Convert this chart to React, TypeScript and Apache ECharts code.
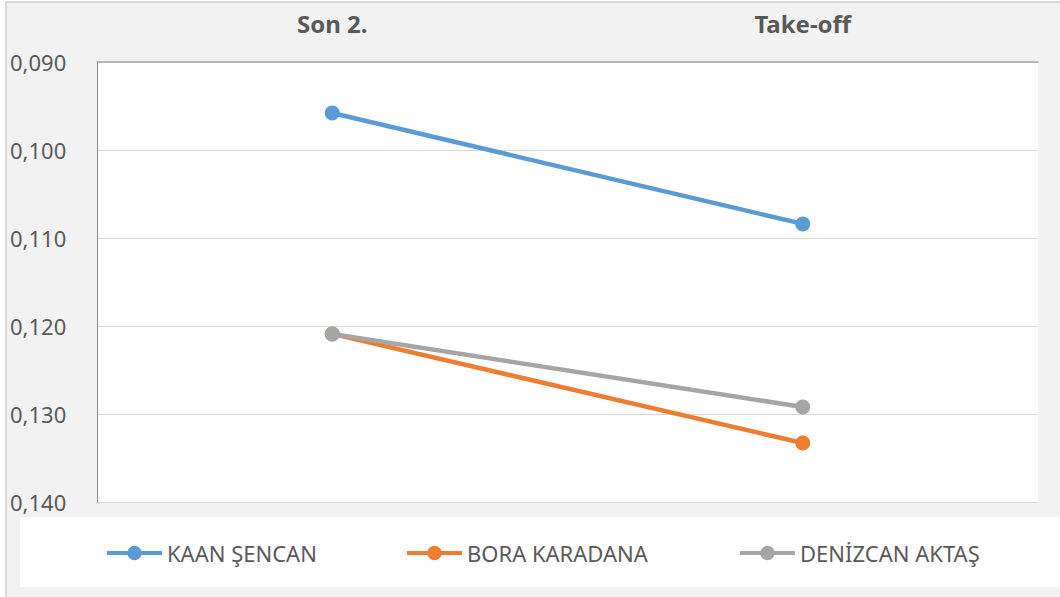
import React, { useEffect, useRef } from "react";
import * as echarts from "echarts";

const categories = ["Son 2.", "Take-off"];
const seriesNames = ["KAAN ŞENCAN", "BORA KARADANA", "DENİZCAN AKTAŞ"];
const kaan = [0.0958, 0.1084];
const bora = [0.1209, 0.1333];
const denizcan = [0.1209, 0.1292];
const colors = ["#5b9bd5", "#ed7d31", "#a5a5a5"];
const legendLefts = [105, 405, 738];

export default function App() {
  const ref = useRef<HTMLDivElement>(null);
  useEffect(() => {
    if (!ref.current) return;
    const chart = echarts.init(ref.current, undefined, { renderer: "svg" });
    const values = [kaan, bora, denizcan];
    chart.setOption({
      animation: false,
      backgroundColor: "#ffffff",
      textStyle: { fontFamily: "Noto Sans" },
      graphic: [
        {
          type: "rect",
          z: -10,
          shape: { x: 6, y: 2, width: 1100, height: 700 },
          style: { fill: "#f2f2f2", stroke: "#d9d9d9", lineWidth: 2 },
        },
        {
          type: "rect",
          z: -9,
          shape: { x: 20, y: 517, width: 1100, height: 70 },
          style: { fill: "#ffffff" },
        },
      ],
      grid: {
        left: 97,
        right: 22,
        top: 62,
        bottom: 95,
        show: true,
        backgroundColor: "#ffffff",
        borderWidth: 0,
      },
      legend: seriesNames.map((n, i) => ({
        data: [n],
        left: legendLefts[i],
        top: 542,
        itemWidth: 55,
        itemHeight: 18,
        itemGap: 5,
        padding: 0,
        lineStyle: { width: 4 },
        textStyle: { fontSize: 22, color: "#595959", fontFamily: "Noto Sans" },
      })),
      xAxis: {
        type: "category",
        position: "top",
        data: categories,
        boundaryGap: true,
        axisLine: { show: true, lineStyle: { color: "#a6a6a6", width: 1.5 } },
        axisTick: { show: false },
        axisLabel: {
          fontSize: 24,
          fontWeight: "bold",
          color: "#595959",
          fontFamily: "Noto Sans",
          verticalAlign: "middle",
          margin: 39,
        },
        splitLine: { show: false },
      },
      yAxis: {
        type: "value",
        inverse: true,
        min: 0.09,
        max: 0.14,
        interval: 0.01,
        axisLine: { show: true, lineStyle: { color: "#8c8c8c", width: 1 } },
        axisTick: { show: false },
        splitLine: { show: true, lineStyle: { color: "#d9d9d9", width: 1 } },
        axisLabel: {
          fontSize: 22,
          color: "#595959",
          fontFamily: "Noto Sans",
          align: "left",
          margin: 87,
          formatter: (v: number) => v.toFixed(3).replace(".", ","),
        },
      },
      series: seriesNames.map((n, i) => ({
        name: n,
        type: "line",
        data: values[i],
        symbol: "circle",
        symbolSize: 15,
        color: colors[i],
        lineStyle: { width: 4.5, color: colors[i] },
        itemStyle: { color: colors[i] },
      })),
    });
    return () => chart.dispose();
  }, []);
  return (
    <div
      ref={ref}
      style={{ position: "fixed", left: 0, top: 0, width: 1060, height: 597 }}
    />
  );
}
